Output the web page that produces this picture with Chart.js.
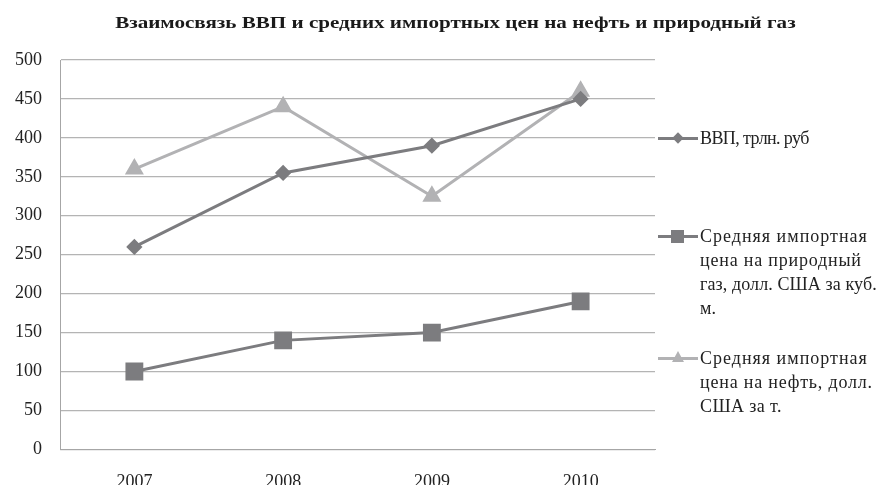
<!DOCTYPE html>
<html><head><meta charset="utf-8">
<script src="https://cdn.jsdelivr.net/npm/chart.js@4"></script>
<style>
html,body{margin:0;padding:0;background:#fff;}
#wrap{position:relative;width:892px;height:485px;overflow:hidden;}
#c{position:absolute;left:0;top:0;}
#title{position:absolute;left:0;top:12px;width:892px;text-align:center;font-family:"Liberation Serif",serif;font-weight:bold;font-size:17px;color:#1a1a1a;line-height:22px;}
#title span{display:inline-block;transform:scaleX(1.24);transform-origin:center;position:relative;left:9px;}
#legend{position:absolute;left:658px;top:0;width:234px;font-family:"Liberation Serif",serif;font-size:18px;color:#222;}
.item{position:absolute;left:0;display:flex;align-items:flex-start;}
.sym{position:relative;width:42px;height:24px;flex:none;}
.sym .ln{position:absolute;left:0;top:11px;width:40px;height:3px;}
.sym .mk{position:absolute;}
.txt{line-height:24px;white-space:nowrap;}
.txt span{display:block;}
</style></head>
<body>
<div id="wrap">
<canvas id="c" width="892" height="517"></canvas>
<div id="title"><span></span></div>
<div id="legend"></div>
</div>
<script>
const title = 'Взаимосвязь ВВП и средних импортных цен на нефть и природный газ';
const categories = ['2007', '2008', '2009', '2010'];
const gdp = [260, 355, 390, 450];
const gas = [100, 140, 150, 190];
const oil = [360, 440, 325, 460];
const seriesNames = ['ВВП, трлн. руб',
  'Средняя импортная цена на природный газ, долл. США за куб. м.',
  'Средняя импортная цена на нефть, долл. США за т.'];
const legendLines = [
  ['ВВП, трлн. руб'],
  ['Средняя импортная', 'цена на природный', 'газ, долл. США за куб.', 'м.'],
  ['Средняя импортная', 'цена на нефть, долл.', 'США за т.']
];
const legendSpacing = [
  [-0.6],
  [1.0, 0.8, 0.1, 0],
  [1.0, 0.8, 0.4]
];
const darkGray = '#7c7c7f';
const lightGray = '#b2b2b4';
const font = '"Liberation Serif", "Times New Roman", serif';

document.querySelector('#title span').textContent = title;

new Chart(document.getElementById('c'), {
  type: 'line',
  data: {
    labels: categories,
    datasets: [
      {label: seriesNames[0], data: gdp, borderColor: darkGray, backgroundColor: darkGray, borderWidth: 3,
       pointStyle: 'rectRot', pointRadius: 6, pointHoverRadius: 6, tension: 0},
      {label: seriesNames[1], data: gas, borderColor: darkGray, backgroundColor: darkGray, borderWidth: 3,
       pointStyle: 'rect', pointRadius: 10.5, pointHoverRadius: 10.5, tension: 0},
      {label: seriesNames[2], data: oil, borderColor: lightGray, backgroundColor: lightGray, borderWidth: 3,
       pointStyle: 'triangle', pointRadius: 8, pointHoverRadius: 8, tension: 0}
    ]
  },
  options: {
    responsive: false,
    animation: false,
    layout: {padding: {left: -3, right: 237, top: 60, bottom: 10}},
    plugins: {
      legend: {display: false},
      tooltip: {enabled: false},
      title: {display: false}
    },
    scales: {
      x: {
        offset: true,
        grid: {display: false},
        border: {display: true, color: '#a6a6a6', width: 1},
        ticks: {color: '#222', font: {family: font, size: 18}, padding: 14}
      },
      y: {
        min: 0, max: 500,
        ticks: {stepSize: 50, color: '#222', font: {family: font, size: 18}, padding: 18},
        grid: {color: '#b4b4b4', lineWidth: 1.2, drawTicks: false},
        border: {display: true, color: '#a6a6a6', width: 1}
      }
    }
  }
});

// HTML legend
const legend = document.getElementById('legend');
const tops = [126, 224, 346];
const colors = [darkGray, darkGray, lightGray];
const markers = ['diamond', 'square', 'triangle'];
legendLines.forEach((lines, i) => {
  const it = document.createElement('div');
  it.className = 'item';
  it.style.top = tops[i] + 'px';
  const sym = document.createElement('div');
  sym.className = 'sym';
  const ln = document.createElement('div');
  ln.className = 'ln';
  ln.style.background = colors[i];
  sym.appendChild(ln);
  const mk = document.createElement('div');
  mk.className = 'mk';
  if (markers[i] === 'diamond') {
    Object.assign(mk.style, {left: '16px', top: '8px', width: '8px', height: '8px', background: colors[i], transform: 'rotate(45deg)'});
  } else if (markers[i] === 'square') {
    Object.assign(mk.style, {left: '13px', top: '6px', width: '13px', height: '13px', background: colors[i]});
  } else {
    Object.assign(mk.style, {left: '14px', top: '5px', width: '0', height: '0', borderLeft: '6px solid transparent', borderRight: '6px solid transparent', borderBottom: '11px solid ' + colors[i]});
  }
  sym.appendChild(mk);
  it.appendChild(sym);
  const t = document.createElement('div');
  t.className = 'txt';
  lines.forEach((line, j) => {
    const s = document.createElement('span');
    s.textContent = line;
    s.style.letterSpacing = legendSpacing[i][j] + 'px';
    t.appendChild(s);
  });
  it.appendChild(t);
  legend.appendChild(it);
});
</script>
</body></html>
